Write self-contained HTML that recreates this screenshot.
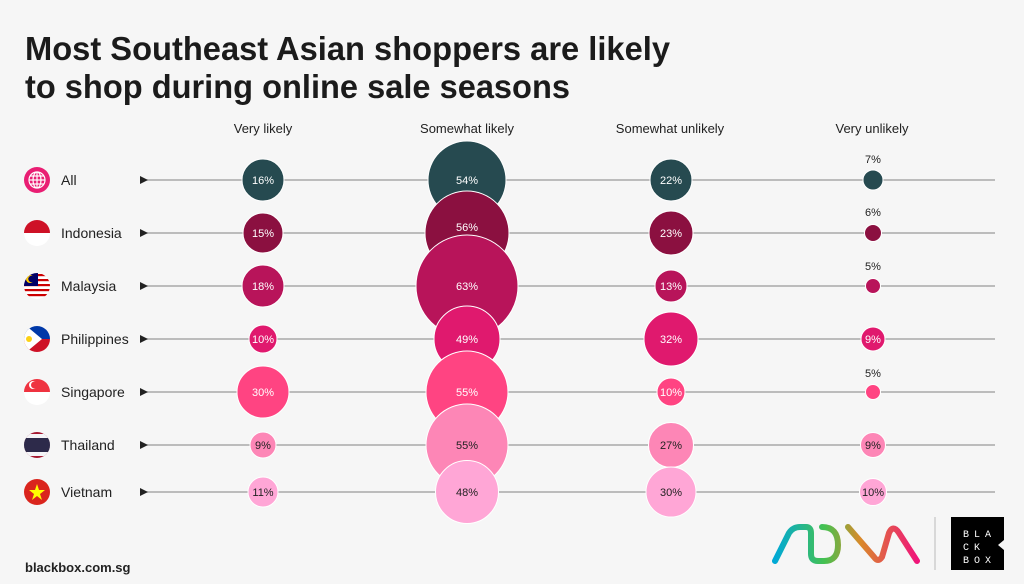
<!DOCTYPE html>
<html><head><meta charset="utf-8"><style>
html,body{margin:0;padding:0;background:#f6f6f6;}
svg{display:block;font-family:"Liberation Sans",sans-serif;}
</style></head><body>
<svg width="1024" height="584" viewBox="0 0 1024 584" xmlns="http://www.w3.org/2000/svg">
<rect width="1024" height="584" fill="#f6f6f6"/>
<text x="25" y="60" font-size="33" font-weight="bold" fill="#1b1b1b" textLength="645" lengthAdjust="spacingAndGlyphs">Most Southeast Asian shoppers are likely</text>
<text x="25" y="98" font-size="33" font-weight="bold" fill="#1b1b1b" textLength="545" lengthAdjust="spacingAndGlyphs">to shop during online sale seasons</text>
<g font-size="13" fill="#222" text-anchor="middle">
<text x="263" y="133">Very likely</text>
<text x="467" y="133">Somewhat likely</text>
<text x="670" y="133">Somewhat unlikely</text>
<text x="872" y="133">Very unlikely</text>
</g>
<g stroke="#999" stroke-width="1.2">
<line x1="145" y1="180" x2="995" y2="180"/>
<line x1="145" y1="233" x2="995" y2="233"/>
<line x1="145" y1="286" x2="995" y2="286"/>
<line x1="145" y1="339" x2="995" y2="339"/>
<line x1="145" y1="392" x2="995" y2="392"/>
<line x1="145" y1="445" x2="995" y2="445"/>
<line x1="145" y1="492" x2="995" y2="492"/>
</g>
<g fill="#222">
<path d="M140 176 L148 180 L140 184Z"/><path d="M140 229 L148 233 L140 237Z"/><path d="M140 282 L148 286 L140 290Z"/><path d="M140 335 L148 339 L140 343Z"/><path d="M140 388 L148 392 L140 396Z"/><path d="M140 441 L148 445 L140 449Z"/><path d="M140 488 L148 492 L140 496Z"/>
</g>
<g font-size="14" fill="#222">
<text x="61" y="185">All</text><text x="61" y="238">Indonesia</text><text x="61" y="291">Malaysia</text><text x="61" y="344">Philippines</text><text x="61" y="397">Singapore</text><text x="61" y="450">Thailand</text><text x="61" y="497">Vietnam</text>
</g>
<defs>
<clipPath id="c1"><circle cx="37" cy="233" r="13"/></clipPath>
<clipPath id="c2"><circle cx="37" cy="286" r="13"/></clipPath>
<clipPath id="c3"><circle cx="37" cy="339" r="13"/></clipPath>
<clipPath id="c4"><circle cx="37" cy="392" r="13"/></clipPath>
<clipPath id="c5"><circle cx="37" cy="445" r="13"/></clipPath>
</defs>
<circle cx="37" cy="180" r="13" fill="#e91e73"/>
<g stroke="#fff" stroke-width="1.2" fill="none"><circle cx="37" cy="180" r="8"/><ellipse cx="37" cy="180" rx="4" ry="8"/><line x1="29" y1="180" x2="45" y2="180"/><line x1="30" y1="176" x2="44" y2="176"/><line x1="30" y1="184" x2="44" y2="184"/><line x1="37" y1="172" x2="37" y2="188"/></g>
<g clip-path="url(#c1)"><rect x="20" y="218" width="34" height="15" fill="#ce1126"/><rect x="20" y="233" width="34" height="15" fill="#fff"/></g>
<g clip-path="url(#c2)"><rect x="20" y="271" width="34" height="30" fill="#fff"/><rect x="20" y="274" width="34" height="2.2" fill="#cc0001"/><rect x="20" y="279" width="34" height="2.2" fill="#cc0001"/><rect x="20" y="284" width="34" height="2.2" fill="#cc0001"/><rect x="20" y="289" width="34" height="2.2" fill="#cc0001"/><rect x="20" y="294" width="34" height="2.2" fill="#cc0001"/><rect x="20" y="271" width="18" height="15" fill="#010066"/><circle cx="30" cy="279" r="4" fill="#fc0"/><circle cx="31.5" cy="279" r="3.2" fill="#010066"/></g>
<g clip-path="url(#c3)"><rect x="20" y="324" width="34" height="15" fill="#0038a8"/><rect x="20" y="339" width="34" height="15" fill="#ce1126"/><path d="M24 324 L42 339 L24 354 L20 354 L20 324Z" fill="#fff"/><circle cx="29" cy="339" r="3" fill="#fcd116"/></g>
<g clip-path="url(#c4)"><rect x="20" y="377" width="34" height="15" fill="#ef3340"/><rect x="20" y="392" width="34" height="15" fill="#fff"/><circle cx="33" cy="385" r="4" fill="#fff"/><circle cx="34.5" cy="385" r="3.5" fill="#ef3340"/></g>
<g clip-path="url(#c5)"><rect x="20" y="430" width="34" height="30" fill="#a51931"/><rect x="20" y="434" width="34" height="22" fill="#f4f5f8"/><rect x="20" y="438" width="34" height="14" fill="#2d2a4a"/></g>
<circle cx="37" cy="492" r="13" fill="#da251d"/>
<path d="M37 484 L39 490 L45 490 L40 494 L42 500 L37 496 L32 500 L34 494 L29 490 L35 490Z" fill="#ff0"/>
<g stroke="#fff" stroke-width="1">
<circle cx="263" cy="180" r="21" fill="#264a50"/><circle cx="467" cy="180" r="39" fill="#264a50"/><circle cx="671" cy="180" r="21" fill="#264a50"/><circle cx="873" cy="180" r="10" fill="#264a50"/>
<circle cx="263" cy="233" r="20" fill="#8b1040"/><circle cx="467" cy="233" r="42" fill="#8b1040"/><circle cx="671" cy="233" r="22" fill="#8b1040"/><circle cx="873" cy="233" r="8.5" fill="#8b1040"/>
<circle cx="263" cy="286" r="21" fill="#b8145a"/><circle cx="467" cy="286" r="51" fill="#b8145a"/><circle cx="671" cy="286" r="16" fill="#b8145a"/><circle cx="873" cy="286" r="7.5" fill="#b8145a"/>
<circle cx="263" cy="339" r="14" fill="#e0196e"/><circle cx="467" cy="339" r="33" fill="#e0196e"/><circle cx="671" cy="339" r="27" fill="#e0196e"/><circle cx="873" cy="339" r="12" fill="#e0196e"/>
<circle cx="263" cy="392" r="26" fill="#ff4482"/><circle cx="467" cy="392" r="41" fill="#ff4482"/><circle cx="671" cy="392" r="14" fill="#ff4482"/><circle cx="873" cy="392" r="7.5" fill="#ff4482"/>
<circle cx="263" cy="445" r="13" fill="#fd86b6"/><circle cx="467" cy="445" r="41" fill="#fd86b6"/><circle cx="671" cy="445" r="22.5" fill="#fd86b6"/><circle cx="873" cy="445" r="12.5" fill="#fd86b6"/>
<circle cx="263" cy="492" r="15" fill="#ffa6d6"/><circle cx="467" cy="492" r="31.5" fill="#ffa6d6"/><circle cx="671" cy="492" r="25" fill="#ffa6d6"/><circle cx="873" cy="492" r="13.5" fill="#ffa6d6"/>
</g>
<g font-size="11" text-anchor="middle" fill="#fff">
<text x="263" y="184">16%</text><text x="467" y="184">54%</text><text x="671" y="184">22%</text>
<text x="263" y="237">15%</text><text x="467" y="231">56%</text><text x="671" y="237">23%</text>
<text x="263" y="290">18%</text><text x="467" y="290">63%</text><text x="671" y="290">13%</text>
<text x="263" y="343">10%</text><text x="467" y="343">49%</text><text x="671" y="343">32%</text><text x="873" y="343">9%</text>
<text x="263" y="396">30%</text><text x="467" y="396">55%</text><text x="671" y="396">10%</text>
</g>
<g font-size="11" text-anchor="middle" fill="#222">
<text x="873" y="163">7%</text><text x="873" y="216">6%</text><text x="873" y="270">5%</text><text x="873" y="377">5%</text>
<text x="263" y="449">9%</text><text x="467" y="449">55%</text><text x="671" y="449">27%</text><text x="873" y="449">9%</text>
<text x="263" y="496">11%</text><text x="467" y="496">48%</text><text x="671" y="496">30%</text><text x="873" y="496">10%</text>
</g>
<text x="25" y="572" font-size="13" font-weight="bold" fill="#222">blackbox.com.sg</text>
<defs><linearGradient id="g" x1="0" x2="1"><stop offset="0" stop-color="#00a9d6"/><stop offset="0.35" stop-color="#45c150"/><stop offset="0.6" stop-color="#d98a2a"/><stop offset="1" stop-color="#f0157a"/></linearGradient></defs>
<path d="M775 561 L789 533 Q793 527 800 527 L806 527 Q811 527 811 533 L811 554 Q811 561 818 561 L824 561 Q838 561 838 545 Q838 527 822 527 M848 527 L874 557 Q878 563 882 557 L889 533 Q893 524 899 533 L917 561" fill="none" stroke="url(#g)" stroke-width="6" stroke-linecap="round" stroke-linejoin="round"/>
<line x1="935" y1="517" x2="935" y2="570" stroke="#bbb" stroke-width="1"/>
<path d="M951 517 L1004 517 L1004 540 L998 545 L1004 550 L1004 570 L951 570Z" fill="#000"/>
<g font-size="10" fill="#fff" font-family="Liberation Mono,monospace" text-anchor="middle">
<text x="966" y="537">B</text><text x="977" y="537">L</text><text x="988" y="537">A</text>
<text x="966" y="550">C</text><text x="977" y="550">K</text>
<text x="966" y="563">B</text><text x="977" y="563">O</text><text x="988" y="563">X</text>
</g>
</svg>
</body></html>
